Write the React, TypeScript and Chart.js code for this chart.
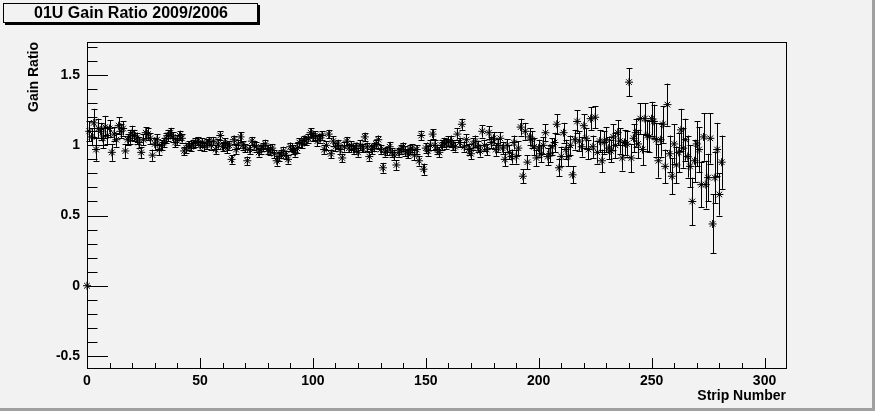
import React, { useEffect, useRef } from "react";
import { Chart, registerables } from "chart.js";

Chart.register(...registerables);

const TITLE = "01U Gain Ratio 2009/2006";
const X_TITLE = "Strip Number";
const Y_TITLE = "Gain Ratio";

const xTickValues = [0, 50, 100, 150, 200, 250, 300];
const yTickValues = [-0.5, 0, 0.5, 1, 1.5];
const X_RANGE = [0, 309.5];
const Y_RANGE = [-0.586, 1.736];

// gain ratio per strip (strip number = index)
const gainRatio = [
  0, 1.10, 1.06, 1.16, 0.97, 1.12, 1.10, 1.05, 1.13, 1.07,
  1.12, 0.95, 1.08, 1.04, 1.14, 1.10, 1.12, 0.96, 1.04, 1.06,
  1.09, 1.07, 1.05, 1.02, 0.95, 1.04, 1.09, 1.08, 1.05, 0.93,
  1.01, 1.04, 0.97, 1.00, 1.02, 1.05, 1.07, 1.09, 1.06, 1.02,
  1.04, 1.07, 1.05, 0.96, 0.98, 1.00, 0.99, 1.01, 1.02, 1.03,
  1.00, 1.02, 0.99, 1.01, 1.03, 1.00, 1.03, 0.97, 1.01, 1.07,
  0.99, 1.02, 0.98, 1.00, 0.90, 1.04, 0.97, 1.01, 1.06, 1.00,
  0.98, 0.89, 0.97, 1.03, 1.00, 0.99, 0.95, 0.97, 0.99, 1.01,
  0.97, 0.96, 0.98, 0.94, 0.89, 0.92, 0.94, 0.96, 0.93, 0.90,
  0.99, 0.97, 0.95, 0.98, 1.02, 1.01, 1.04, 1.03, 1.05, 1.09,
  1.06, 1.07, 1.03, 1.05, 1.07, 0.97, 1.00, 1.08, 0.94, 1.03,
  0.99, 1.01, 0.97, 0.91, 0.99, 1.03, 0.98, 1.00, 0.97, 0.99,
  0.95, 1.00, 0.98, 1.06, 0.99, 0.92, 0.97, 0.99, 1.01, 1.04,
  0.97, 0.84, 0.95, 0.96, 0.99, 0.95, 0.93, 0.86, 0.95, 0.97,
  0.99, 0.96, 0.94, 0.97, 0.98, 0.93, 0.97, 0.89, 1.07, 0.83,
  0.98, 0.96, 1.00, 1.08, 1.00, 0.97, 0.95, 1.00, 1.02, 1.01,
  1.03, 1.03, 1.00, 0.99, 1.08, 1.02, 1.15, 0.99, 1.04, 0.97,
  0.94, 1.01, 1.03, 0.99, 0.96, 1.10, 1.00, 0.97, 1.09, 1.02,
  1.05, 0.97, 1.00, 1.05, 0.98, 0.90, 1.00, 0.95, 0.92, 1.02,
  0.92, 0.98, 1.13, 0.78, 1.10, 0.88, 1.06, 1.04, 0.99, 0.91,
  0.98, 0.94, 1.00, 1.09, 0.92, 0.94, 0.99, 1.02, 1.15, 0.84,
  0.92, 1.09, 0.97, 0.92, 1.00, 0.79, 1.04, 1.17, 1.03, 0.99,
  1.14, 1.05, 0.97, 1.19, 0.99, 1.20, 0.95, 1.03, 0.89, 1.02,
  1.04, 0.98, 0.96, 1.06, 1.00, 1.09, 1.03, 0.91, 1.02, 1.01,
  1.45, 0.91, 1.05, 1.09, 1.01, 1.19, 0.97, 1.19, 1.07, 1.06,
  1.19, 1.17, 1.04, 0.89, 1.04, 1.15, 0.85, 1.29, 0.94, 0.78,
  1.01, 0.86, 0.95, 1.11, 0.98, 1.04, 0.92, 0.85, 0.60, 0.89,
  1.01, 0.97, 0.72, 1.06, 0.72, 0.77, 1.05, 0.44, 0.77, 0.97,
  0.65, 0.88,
];

// statistical error per strip
const gainError = [
  0, 0.07, 0.06, 0.10, 0.08, 0.07, 0.06, 0.07, 0.08, 0.06,
  0.06, 0.06, 0.05, 0.05, 0.06, 0.05, 0.05, 0.05, 0.04, 0.05,
  0.05, 0.04, 0.04, 0.04, 0.04, 0.04, 0.04, 0.04, 0.04, 0.04,
  0.04, 0.04, 0.04, 0.035, 0.035, 0.035, 0.04, 0.035, 0.035, 0.035,
  0.035, 0.035, 0.03, 0.03, 0.035, 0.03, 0.03, 0.03, 0.035, 0.03,
  0.03, 0.03, 0.03, 0.035, 0.03, 0.03, 0.03, 0.03, 0.035, 0.03,
  0.03, 0.03, 0.035, 0.03, 0.03, 0.03, 0.03, 0.03, 0.035, 0.03,
  0.03, 0.03, 0.03, 0.03, 0.03, 0.035, 0.03, 0.03, 0.03, 0.03,
  0.03, 0.03, 0.03, 0.03, 0.035, 0.03, 0.03, 0.03, 0.03, 0.03,
  0.03, 0.03, 0.03, 0.035, 0.03, 0.03, 0.03, 0.03, 0.03, 0.03,
  0.03, 0.03, 0.035, 0.03, 0.03, 0.03, 0.03, 0.03, 0.03, 0.035,
  0.03, 0.03, 0.03, 0.03, 0.035, 0.03, 0.03, 0.03, 0.03, 0.03,
  0.03, 0.035, 0.03, 0.03, 0.03, 0.03, 0.035, 0.03, 0.03, 0.03,
  0.03, 0.035, 0.03, 0.03, 0.035, 0.03, 0.035, 0.035, 0.03, 0.03,
  0.03, 0.035, 0.03, 0.035, 0.03, 0.035, 0.03, 0.035, 0.035, 0.04,
  0.035, 0.035, 0.035, 0.035, 0.035, 0.035, 0.035, 0.035, 0.035, 0.035,
  0.035, 0.04, 0.035, 0.035, 0.04, 0.035, 0.04, 0.035, 0.04, 0.04,
  0.04, 0.04, 0.04, 0.04, 0.04, 0.045, 0.04, 0.04, 0.045, 0.04,
  0.045, 0.045, 0.045, 0.045, 0.045, 0.05, 0.045, 0.05, 0.05, 0.05,
  0.05, 0.05, 0.06, 0.05, 0.06, 0.05, 0.06, 0.06, 0.06, 0.06,
  0.06, 0.06, 0.06, 0.06, 0.06, 0.06, 0.06, 0.07, 0.07, 0.06,
  0.07, 0.07, 0.07, 0.07, 0.07, 0.06, 0.07, 0.08, 0.07, 0.07,
  0.08, 0.07, 0.07, 0.08, 0.08, 0.08, 0.08, 0.08, 0.08, 0.08,
  0.09, 0.08, 0.08, 0.09, 0.09, 0.09, 0.09, 0.09, 0.09, 0.09,
  0.10, 0.10, 0.10, 0.10, 0.10, 0.11, 0.11, 0.11, 0.11, 0.11,
  0.12, 0.12, 0.12, 0.12, 0.12, 0.13, 0.12, 0.15, 0.13, 0.13,
  0.14, 0.13, 0.14, 0.15, 0.14, 0.15, 0.15, 0.15, 0.17, 0.15,
  0.16, 0.16, 0.16, 0.17, 0.17, 0.17, 0.18, 0.21, 0.18, 0.19,
  0.15, 0.19,
];

const stripNumbers = gainRatio.map((_, i) => i);

const BG = "#f2f2f2";
const FONT = "'Liberation Sans', Arial, Helvetica, sans-serif";

const rootStylePlugin = {
  id: "rootStyle",
  beforeDraw(chart: any) {
    const { ctx, width, height } = chart;
    ctx.save();
    ctx.fillStyle = BG;
    ctx.fillRect(0, 0, width, height);
    // canvas bevel (right & bottom)
    ctx.fillStyle = "#a0a0a0";
    ctx.fillRect(width - 3, 0, 3, height);
    ctx.fillRect(0, height - 3, width, 3);
    ctx.restore();
  },
  beforeDatasetsDraw(chart: any) {
    const { ctx } = chart;
    const ys = chart.scales.y;
    const meta = chart.getDatasetMeta(0);
    ctx.save();
    ctx.strokeStyle = "#000";
    ctx.lineWidth = 1;
    meta.data.forEach((pt: any, i: number) => {
      const e = gainError[i];
      if (!e) return;
      const x = Math.round(pt.x) + 0.5;
      const yTop = ys.getPixelForValue(gainRatio[i] + e);
      const yBot = ys.getPixelForValue(gainRatio[i] - e);
      ctx.beginPath();
      ctx.moveTo(x, yTop);
      ctx.lineTo(x, yBot);
      ctx.moveTo(x - 3, Math.round(yTop) + 0.5);
      ctx.lineTo(x + 3, Math.round(yTop) + 0.5);
      ctx.moveTo(x - 3, Math.round(yBot) + 0.5);
      ctx.lineTo(x + 3, Math.round(yBot) + 0.5);
      ctx.stroke();
    });
    ctx.restore();
  },
  afterDraw(chart: any) {
    const { ctx, chartArea } = chart;
    const { left, right, top, bottom } = chartArea;
    const xs = chart.scales.x;
    const ys = chart.scales.y;
    ctx.save();
    ctx.strokeStyle = "#000";
    ctx.lineWidth = 1;
    // frame
    ctx.strokeRect(Math.round(left) + 0.5, Math.round(top) + 0.5, Math.round(right - left), Math.round(bottom - top));
    // x ticks (inside)
    ctx.beginPath();
    for (let v = 0; v <= 300; v += 10) {
      const px = Math.round(xs.getPixelForValue(v)) + 0.5;
      const len = v % 50 === 0 ? 10 : 5;
      ctx.moveTo(px, bottom);
      ctx.lineTo(px, bottom - len);
    }
    // y ticks (inside)
    for (let k = -5; k <= 17; k++) {
      const v = k / 10;
      const py = Math.round(ys.getPixelForValue(v)) + 0.5;
      const len = k % 5 === 0 ? 21 : 10.5;
      ctx.moveTo(left, py);
      ctx.lineTo(left + len, py);
    }
    ctx.stroke();
    // title box
    ctx.fillStyle = "#000";
    ctx.fillRect(5, 5, 255, 20);
    ctx.fillStyle = BG;
    ctx.fillRect(3, 3, 255, 20);
    ctx.strokeRect(3.5, 3.5, 254, 19);
    ctx.fillStyle = "#000";
    ctx.font = `bold 16px ${FONT}`;
    ctx.textAlign = "center";
    ctx.textBaseline = "middle";
    ctx.fillText(TITLE, 131, 14);
    ctx.restore();
  },
};

export default function App() {
  const ref = useRef<HTMLCanvasElement | null>(null);
  useEffect(() => {
    document.body.style.margin = "0";
    const canvas = ref.current;
    if (!canvas) return;
    const tickFont = { family: FONT, weight: "bold" as const, size: 14 };
    const titleFont = { family: FONT, weight: "bold" as const, size: 14 };
    const chart = new Chart(canvas, {
      type: "scatter",
      data: {
        datasets: [
          {
            data: stripNumbers.map((s, i) => ({ x: s, y: gainRatio[i] })),
            pointStyle: "star",
            pointRadius: 4,
            pointHoverRadius: 4,
            borderColor: "#000",
            backgroundColor: "#000",
            borderWidth: 1,
            showLine: false,
            clip: false as any,
          },
        ],
      },
      options: {
        responsive: false,
        animation: false,
        events: [],
        layout: { padding: { left: 0, right: 89, top: 42, bottom: 0 } },
        plugins: {
          legend: { display: false },
          tooltip: { enabled: false },
          title: { display: false },
        },
        scales: {
          x: {
            type: "linear",
            min: X_RANGE[0],
            max: X_RANGE[1],
            afterBuildTicks: (s: any) => {
              s.ticks = xTickValues.map((v) => ({ value: v }));
            },
            afterFit: (s: any) => {
              s.height = 43;
            },
            ticks: {
              color: "#000",
              font: tickFont,
              padding: 5,
              maxRotation: 0,
              autoSkip: false,
              callback: (v: any) => String(v),
            },
            grid: { display: false, drawTicks: false },
            border: { display: false },
            title: {
              display: true,
              text: X_TITLE,
              align: "end",
              color: "#000",
              font: titleFont,
              padding: { top: 0, bottom: 6 },
            },
          },
          y: {
            type: "linear",
            min: Y_RANGE[0],
            max: Y_RANGE[1],
            afterBuildTicks: (s: any) => {
              s.ticks = yTickValues.map((v) => ({ value: v }));
            },
            afterFit: (s: any) => {
              s.width = 87;
            },
            ticks: {
              color: "#000",
              font: tickFont,
              padding: 7,
              autoSkip: false,
              callback: (v: any) => String(v),
            },
            grid: { display: false, drawTicks: false },
            border: { display: false },
            title: {
              display: true,
              text: Y_TITLE,
              align: "end",
              color: "#000",
              font: titleFont,
              padding: { top: 26, bottom: 0 },
            },
          },
        },
      },
      plugins: [rootStylePlugin],
    });
    return () => chart.destroy();
  }, []);
  return (
    <div style={{ width: 875, height: 411 }}>
      <canvas ref={ref} width={875} height={411} style={{ display: "block" }} />
    </div>
  );
}
